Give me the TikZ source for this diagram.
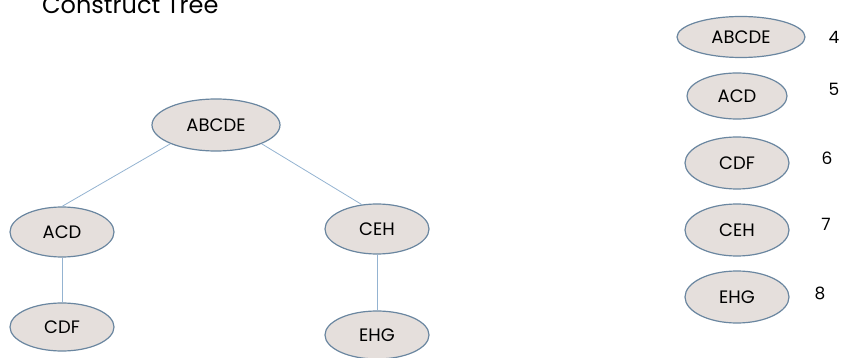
\documentclass[tikz,border=0pt]{standalone}
\usepackage{fontspec}
\setmainfont{Poppins}
\usetikzlibrary{shapes.geometric}
\definecolor{nfill}{HTML}{E5DFDC}
\definecolor{ndraw}{HTML}{6A86A0}
\definecolor{edge}{HTML}{94B3D1}
\tikzset{
  el/.style={ellipse, draw=ndraw, fill=nfill, line width=1.2pt, inner sep=0pt, font=\fontsize{18}{20}\selectfont},
  num/.style={font=\fontsize{17}{19}\selectfont},
  con/.style={draw=edge, line width=0.8pt}
}
\begin{document}
\begin{tikzpicture}[x=1pt,y=-1pt]
\useasboundingbox (0,0) rectangle (843,358);
\node[anchor=base west, font=\fontsize{24}{27}\selectfont, inner sep=0pt] (title) at (42,14) {Construct Tree};
% tree
\node[el, minimum width=128pt, minimum height=52pt] (r) at (216,125) {ABCDE};
\node[el, minimum width=104pt, minimum height=50pt] (a) at (62,232) {ACD};
\node[el, minimum width=104pt, minimum height=48pt] (c) at (62,327) {CDF};
\node[el, minimum width=104pt, minimum height=50pt] (e) at (377,229) {CEH};
\node[el, minimum width=104pt, minimum height=48pt] (h) at (377,335) {EHG};
\draw[con] (r.south west) -- (a.north);
\draw[con] (r.south east) -- (e.122);
\draw[con] (a) -- (c);
\draw[con] (e) -- (h);
% list
\node[el, minimum width=128pt, minimum height=41pt] (l1) at (741,37) {ABCDE};
\node[el, minimum width=100pt, minimum height=46pt] (l2) at (737,96) {ACD};
\node[el, minimum width=104pt, minimum height=52pt] (l3) at (737,163) {CDF};
\node[el, minimum width=104pt, minimum height=52pt] (l4) at (737,230) {CEH};
\node[el, minimum width=104pt, minimum height=52pt] (l5) at (737,297) {EHG};
\node[num] (n4) at (834,37) {4};
\node[num] (n5) at (834,89) {5};
\node[num] (n6) at (827,158) {6};
\node[num] (n7) at (826,224) {7};
\node[num] (n8) at (820,293) {8};
\end{tikzpicture}
\end{document}
